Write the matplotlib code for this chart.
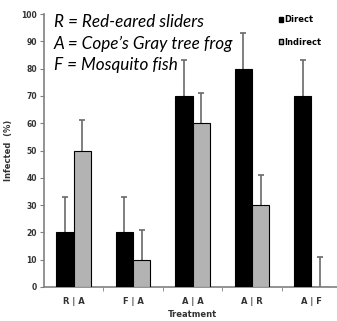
import matplotlib
matplotlib.use("Agg")
import matplotlib.pyplot as plt
import numpy as np
from matplotlib.patches import Patch

categories = ["R | A", "F | A", "A | A", "A | R", "A | F"]
direct = [20, 20, 70, 80, 70]
indirect = [50, 10, 60, 30, 0]
direct_err = [13, 13, 13, 13, 13]
indirect_err = [11, 11, 11, 11, 11]
yticks = [0, 10, 20, 30, 40, 50, 60, 70, 80, 90, 100]

fig = plt.figure(figsize=(3.37, 3.21), dpi=100)
ax = fig.add_axes([44/337, 34/321, 297/337, 273/321])

x = np.arange(len(categories))
w = 0.29
spine_c = "#808080"
err_c = "#6a6a6a"

for xs, vals, errs, col in [(x - w/2, direct, direct_err, "black"),
                            (x + w/2, indirect, indirect_err, "#b3b3b3")]:
    ax.bar(xs, vals, w, color=col, edgecolor="black", linewidth=0.8, zorder=3)
    _, caps, _ = ax.errorbar(xs, vals, yerr=[np.zeros(len(vals)), errs], fmt="none",
                             ecolor=err_c, elinewidth=1.2, capsize=2.5, capthick=1.2, zorder=2)
    caps[0].set_visible(False)

ax.set_xlim(-0.5, len(categories) - 0.5)
ax.set_ylim(0, 100)
ax.set_yticks(yticks)
ax.set_yticklabels([str(t) for t in yticks], fontsize=5.5, fontweight="bold", color="#333333")
ax.set_xticks(x)
ax.set_xticklabels(categories, fontsize=6, fontweight="bold", color="#333333")
ax.set_xticks(np.arange(len(categories)) + 0.5, minor=True)
ax.tick_params(axis="x", which="major", length=0, pad=7)
ax.tick_params(axis="x", which="minor", length=3, color=spine_c, direction="out")
ax.tick_params(axis="y", length=3, color=spine_c, direction="out", pad=2)
for s in ["top", "right"]:
    ax.spines[s].set_visible(False)
for s in ["left", "bottom"]:
    ax.spines[s].set_color(spine_c)
    ax.spines[s].set_linewidth(1.2)

ax.set_ylabel("Infected  (%)", fontsize=6, fontweight="bold", color="#333333", labelpad=6)
ax.set_xlabel("Treatment", fontsize=6, fontweight="bold", color="#333333", labelpad=3)

handles = [Patch(facecolor="black", edgecolor="black", label="Direct"),
           Patch(facecolor="#b3b3b3", edgecolor="black", label="Indirect")]
leg = ax.legend(handles=handles, loc="upper left", bbox_to_anchor=(227/297, 1.022),
                frameon=False, prop=dict(weight="bold", size=6),
                handlelength=0.55, handleheight=0.55, handletextpad=0.15, labelspacing=1.6)

lines = ["R = Red-eared sliders", "A = Cope\u2019s Gray tree frog", "F = Mosquito fish"]
for i, t in enumerate(lines):
    fig.text(54/337, 1 - (22 + 21.5*i)/321, t, fontsize=12.3, style="italic",
             family="Lato", va="center", ha="left", color="black")

fig.savefig("out.png", dpi=100)
